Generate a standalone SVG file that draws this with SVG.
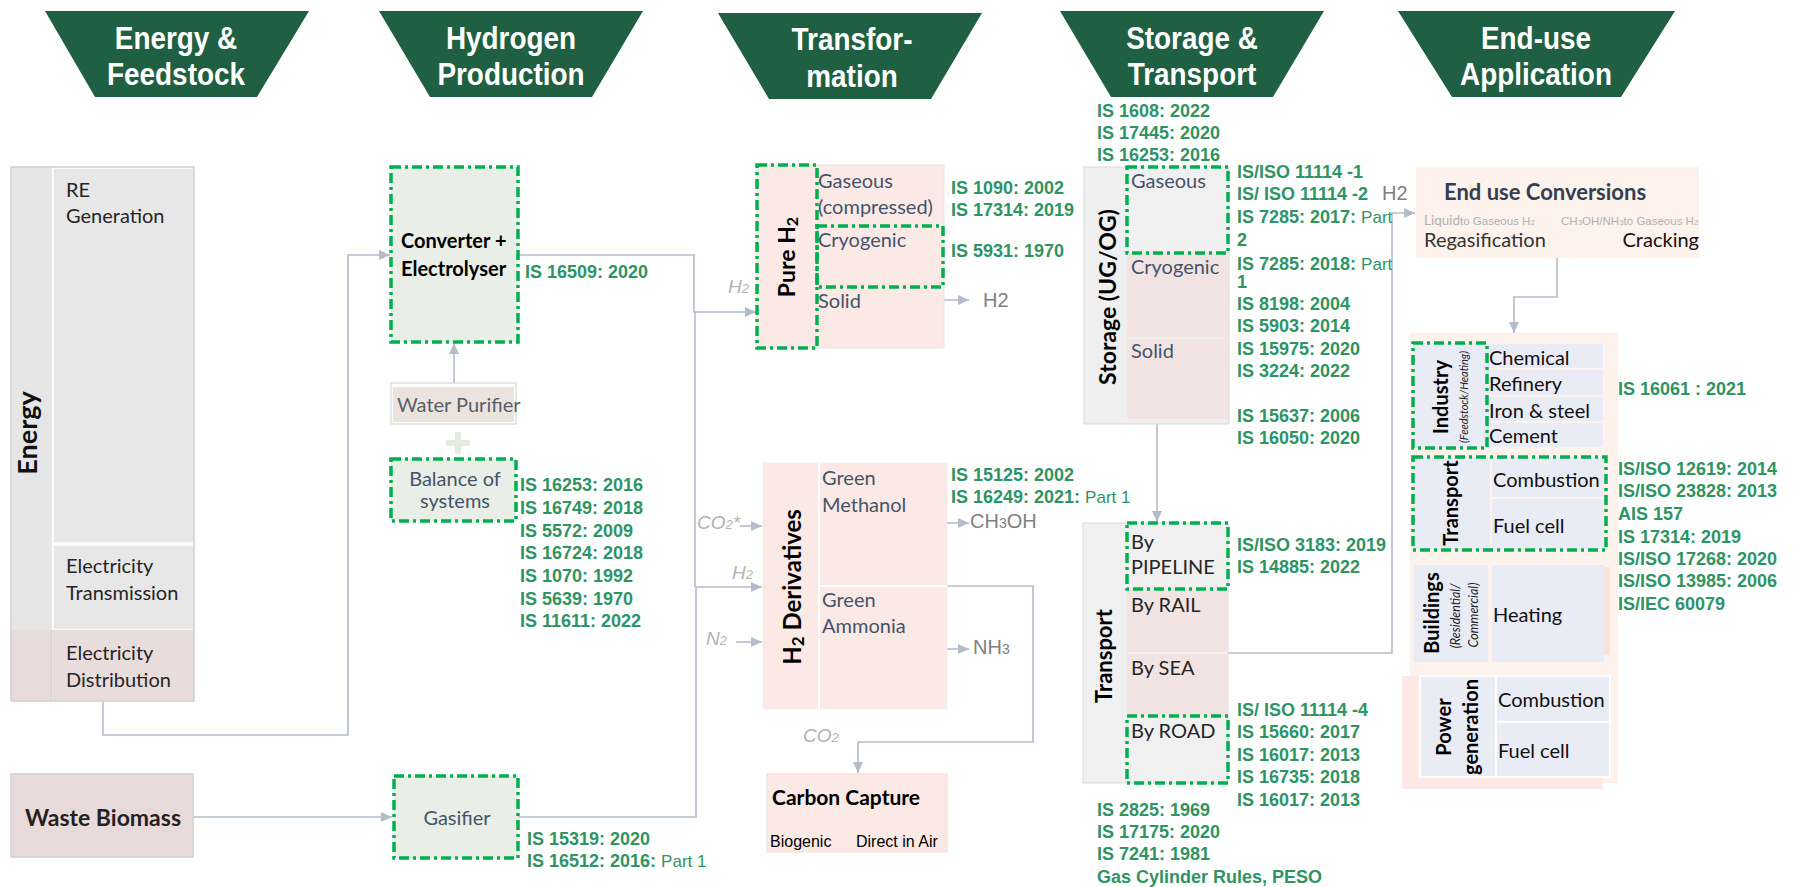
<svg xmlns="http://www.w3.org/2000/svg" width="1802" height="887" viewBox="0 0 1802 887">
<defs>
<style>
.hdr{fill:#1f5f42}
.ht{font-family:"Liberation Sans",Arial,sans-serif;font-weight:bold;font-size:31px;fill:#fff;text-anchor:middle}
.is{font-family:"Liberation Sans",Arial,sans-serif;font-weight:bold;font-size:18px;fill:#2e9464}
.pt{font-weight:normal;font-size:17px}
.dd{fill:none;stroke:#00b050;stroke-width:3.5;stroke-dasharray:10 4 3 4}
.conn{fill:none;stroke:#b4bccb;stroke-width:1.6}
.t{font-family:Lato,"Open Sans",sans-serif;font-size:20px}
.tb{font-family:Lato,"Open Sans",sans-serif;font-weight:bold}
.gb{fill:#44546a}
.dk{fill:#262626}
.lab{font-family:"Liberation Sans",Arial,sans-serif;font-style:italic;font-size:19px;fill:#b3b3b3}
.out{font-family:"Liberation Sans",Arial,sans-serif;font-size:20px;fill:#808080}
.pink{fill:#fbe9e5}
.lav{fill:#e9ebf5}
.grn{fill:#e9eee6}
</style>
<marker id="ah" viewBox="0 0 11 10" refX="11" refY="5" markerWidth="11" markerHeight="10" markerUnits="userSpaceOnUse" orient="auto"><path d="M0,0 L11,5 L0,10 z" fill="#b4bccb"/></marker>
</defs>
<rect width="1802" height="887" fill="#fff"/>

<g id="headers">
<polygon class="hdr" points="45,11 309,11 257,97 95,97"/>
<text class="ht" transform="translate(176,0) scale(0.9,1)" x="0" y="49">Energy &amp;</text>
<text class="ht" transform="translate(176,0) scale(0.9,1)" x="0" y="85">Feedstock</text>
<polygon class="hdr" points="379,11 643,11 592,97 430,97"/>
<text class="ht" transform="translate(511,0) scale(0.9,1)" x="0" y="49">Hydrogen</text>
<text class="ht" transform="translate(511,0) scale(0.9,1)" x="0" y="85">Production</text>
<polygon class="hdr" points="718,13 982,13 931,99 769,99"/>
<text class="ht" transform="translate(852,0) scale(0.9,1)" x="0" y="50">Transfor-</text>
<text class="ht" transform="translate(852,0) scale(0.9,1)" x="0" y="87">mation</text>
<polygon class="hdr" points="1060,11 1324,11 1273,97 1111,97"/>
<text class="ht" transform="translate(1192,0) scale(0.9,1)" x="0" y="49">Storage &amp;</text>
<text class="ht" transform="translate(1192,0) scale(0.9,1)" x="0" y="85">Transport</text>
<polygon class="hdr" points="1398,11 1675,11 1621,97 1452,97"/>
<text class="ht" transform="translate(1536,0) scale(0.9,1)" x="0" y="49">End-use</text>
<text class="ht" transform="translate(1536,0) scale(0.9,1)" x="0" y="85">Application</text>
</g>

<g id="connectors">
<path class="conn" d="M103,701 V735 H348 V255 H390" marker-end="url(#ah)"/>
<path class="conn" d="M193,817 H392" marker-end="url(#ah)"/>
<path class="conn" d="M454,383 V343" marker-end="url(#ah)"/>
<path class="conn" d="M518,255 H694 V312 H756" marker-end="url(#ah)"/>
<path class="conn" d="M518,817 H696 V587 H762" marker-end="url(#ah)"/>
<path class="conn" d="M695,312 V587"/>
<path class="conn" d="M740,526 H762" marker-end="url(#ah)"/>
<path class="conn" d="M736,642 H762" marker-end="url(#ah)"/>
<path class="conn" d="M944,300 H969" marker-end="url(#ah)"/>
<path class="conn" d="M947,523 H969" marker-end="url(#ah)"/>
<path class="conn" d="M947,649 H969" marker-end="url(#ah)"/>
<path class="conn" d="M947,586 H1033 V742 H858 V773" marker-end="url(#ah)"/>
<path class="conn" d="M1157,424 V522" marker-end="url(#ah)"/>
<path class="conn" d="M1228,653 H1392 V213 H1415" marker-end="url(#ah)"/>
<path class="conn" d="M1557,258 V297 H1514 V333" marker-end="url(#ah)"/>
<text class="lab" x="728" y="293">H<tspan font-size="13">2</tspan></text>
<text class="lab" x="697" y="529">CO<tspan font-size="13">2</tspan>*</text>
<text class="lab" x="732" y="579">H<tspan font-size="13">2</tspan></text>
<text class="lab" x="706" y="645">N<tspan font-size="13">2</tspan></text>
<text class="lab" x="803" y="742">CO<tspan font-size="13">2</tspan></text>
<text class="out" x="983" y="307" font-size="18">H2</text>
<text class="out" x="970" y="528">CH<tspan font-size="14">3</tspan>OH</text>
<text class="out" x="973" y="654">NH<tspan font-size="14">3</tspan></text>
<text class="out" x="1382" y="200">H2</text>
</g>

<g id="energy">
<rect x="11" y="167" width="41" height="463" fill="#e6e6e6"/>
<rect x="11" y="630" width="41" height="71" fill="#e8dbdb"/>
<rect x="53" y="168" width="141" height="375" fill="#e7e7e7" stroke="#fff" stroke-width="1.5"/>
<rect x="53" y="545" width="141" height="85" fill="#e7e7e7" stroke="#fff" stroke-width="1.5"/>
<rect x="53" y="630" width="141" height="71" fill="#e9dcdc"/>
<line x1="52" y1="630" x2="52" y2="701" stroke="#d8c8c8" stroke-width="1"/>
<rect x="11" y="167" width="183" height="534" fill="none" stroke="#cfcfcf" stroke-width="1.5"/>
<text class="tb" font-size="27" fill="#111" text-anchor="middle" transform="translate(37,433) rotate(-90)">Energy</text>
<text class="t dk" x="66" y="197">RE</text>
<text class="t dk" x="66" y="223">Generation</text>
<text class="t dk" x="66" y="573">Electricity</text>
<text class="t dk" x="66" y="600">Transmission</text>
<text class="t dk" x="66" y="660">Electricity</text>
<text class="t dk" x="66" y="687">Distribution</text>
</g>

<g id="waste-biomass">
<rect x="11" y="774" width="182" height="83" fill="#e8dada" stroke="#cfcfcf" stroke-width="1.5"/>
<text class="tb" font-size="23" fill="#261f1f" text-anchor="middle" x="103" y="826">Waste Biomass</text>
</g>

<g id="converter">
<rect x="391" y="167" width="127" height="175" class="grn"/>
<rect x="391" y="167" width="127" height="175" class="dd"/>
<text class="tb" font-size="20" fill="#000" x="401" y="248">Converter +</text>
<text class="tb" font-size="20" fill="#000" x="401" y="276">Electrolyser</text>
<text class="is" x="525" y="278">IS 16509: 2020</text>
</g>

<g id="water-purifier">
<rect x="391" y="383" width="125" height="41" fill="#fff" stroke="#cfcfcf" stroke-width="1"/>
<rect x="393" y="387" width="121" height="35" fill="#ece3dc"/>
<text class="t" font-size="18" fill="#555f6e" x="397" y="412">Water Purifier</text>
</g>

<g id="plus">
<path d="M455,432 h6 v8 h9 v6 h-9 v8 h-6 v-8 h-9 v-6 h9 z" fill="#e4ece0"/>
</g>

<g id="balance">
<rect x="391" y="459" width="125" height="62" class="grn"/>
<rect x="391" y="459" width="125" height="62" class="dd"/>
<text class="t gb" font-size="18" text-anchor="middle" x="455" y="486">Balance of</text>
<text class="t gb" font-size="18" text-anchor="middle" x="455" y="508">systems</text>
<text class="is" x="520" y="491">IS 16253: 2016</text>
<text class="is" x="520" y="514">IS 16749: 2018</text>
<text class="is" x="520" y="537">IS 5572: 2009</text>
<text class="is" x="520" y="559">IS 16724: 2018</text>
<text class="is" x="520" y="582">IS 1070: 1992</text>
<text class="is" x="520" y="605">IS 5639: 1970</text>
<text class="is" x="520" y="627">IS 11611: 2022</text>
</g>

<g id="gasifier">
<rect x="394" y="776" width="124" height="82" class="grn"/>
<rect x="394" y="776" width="124" height="82" class="dd"/>
<text class="t gb" text-anchor="middle" x="457" y="825">Gasifier</text>
<text class="is" x="527" y="845">IS 15319: 2020</text>
<text class="is" x="527" y="867">IS 16512: 2016: <tspan class="pt">Part 1</tspan></text>
</g>

<g id="pure-h2">
<rect x="757" y="165" width="187" height="183" class="pink" stroke="#e6e6e6" stroke-width="1"/>
<rect x="757" y="165" width="60" height="183" class="dd"/>
<rect x="817" y="226" width="126" height="61" class="dd"/>
<text class="tb" font-size="23" fill="#000" text-anchor="middle" transform="translate(795,257) rotate(-90)">Pure H<tspan font-size="16" dy="3">2</tspan></text>
<text class="t gb" x="818" y="188">Gaseous</text>
<text class="t gb" x="818" y="214">(compressed)</text>
<text class="t gb" x="818" y="247">Cryogenic</text>
<text class="t gb" x="818" y="308">Solid</text>
<text class="is" x="951" y="194">IS 1090: 2002</text>
<text class="is" x="951" y="216">IS 17314: 2019</text>
<text class="is" x="951" y="257">IS 5931: 1970</text>
</g>

<g id="h2-derivatives">
<rect x="763" y="463" width="184" height="246" class="pink" stroke="#f0f0f0" stroke-width="1"/>
<line x1="819" y1="463" x2="819" y2="709" stroke="#fff" stroke-width="2"/>
<line x1="819" y1="586" x2="947" y2="586" stroke="#fff" stroke-width="2"/>
<text class="tb" font-size="24" fill="#000" text-anchor="middle" transform="translate(801,587) rotate(-90)">H<tspan font-size="17" dy="3">2</tspan><tspan dy="-3"> Derivatives</tspan></text>
<text class="t gb" font-size="20.5" x="822" y="485">Green</text>
<text class="t gb" font-size="20.5" x="822" y="512">Methanol</text>
<text class="t gb" font-size="20.5" x="822" y="607">Green</text>
<text class="t gb" font-size="20.5" x="822" y="633">Ammonia</text>
<text class="is" x="951" y="481">IS 15125: 2002</text>
<text class="is" x="951" y="503">IS 16249: 2021: <tspan class="pt">Part 1</tspan></text>
</g>

<g id="carbon-capture">
<rect x="767" y="774" width="180" height="78" class="pink" stroke="#f3dcd6" stroke-width="1"/>
<text class="tb" font-size="21" fill="#000" x="772" y="805">Carbon Capture</text>
<text font-family="Liberation Sans,Arial,sans-serif" font-size="16" fill="#000" x="770" y="847">Biogenic</text>
<text font-family="Liberation Sans,Arial,sans-serif" font-size="16" fill="#000" x="856" y="847">Direct in Air</text>
</g>

<g id="storage">
<text class="is" x="1097" y="117">IS 1608: 2022</text>
<text class="is" x="1097" y="139">IS 17445: 2020</text>
<text class="is" x="1097" y="161">IS 16253: 2016</text>
<rect x="1084" y="167" width="145" height="257" fill="#efefef" stroke="#d9d9d9" stroke-width="1"/>
<rect x="1127" y="253" width="101" height="85" fill="#f2e4e3"/>
<rect x="1127" y="339" width="101" height="80" fill="#f2e4e3"/>
<rect x="1127" y="167" width="101" height="86" fill="#f0f0f0"/>
<rect x="1127" y="167" width="101" height="86" class="dd"/>
<text class="tb" font-size="23" fill="#000" text-anchor="middle" transform="translate(1116,297) rotate(-90)">Storage (UG/OG)</text>
<text class="t gb" x="1131" y="188">Gaseous</text>
<text class="t gb" x="1131" y="274">Cryogenic</text>
<text class="t gb" x="1131" y="358">Solid</text>
<text class="is" x="1237" y="178">IS/ISO 11114 -1</text>
<text class="is" x="1237" y="200">IS/ ISO 11114 -2</text>
<text class="is" x="1237" y="223">IS 7285: 2017: <tspan class="pt">Part</tspan></text>
<text class="is" x="1237" y="246">2</text>
<text class="is" x="1237" y="270">IS 7285: 2018: <tspan class="pt">Part</tspan></text>
<text class="is" x="1237" y="288" font-weight="normal" font-size="14">1</text>
<text class="is" x="1237" y="310">IS 8198: 2004</text>
<text class="is" x="1237" y="332">IS 5903: 2014</text>
<text class="is" x="1237" y="355">IS 15975: 2020</text>
<text class="is" x="1237" y="377">IS 3224: 2022</text>
<text class="is" x="1237" y="422">IS 15637: 2006</text>
<text class="is" x="1237" y="444">IS 16050: 2020</text>
</g>

<g id="transport">
<rect x="1083" y="523" width="145" height="260" fill="#f0f0f0" stroke="#d9d9d9" stroke-width="1"/>
<rect x="1127" y="589" width="101" height="63" fill="#f2e4e3"/>
<rect x="1127" y="654" width="101" height="62" fill="#f2e4e3"/>
<rect x="1127" y="523" width="101" height="66" class="dd"/>
<rect x="1127" y="716" width="101" height="67" class="dd"/>
<text class="tb" font-size="22" fill="#000" text-anchor="middle" transform="translate(1112,656) rotate(-90)">Transport</text>
<text class="t dk" font-size="19" x="1131" y="549">By</text>
<text class="t dk" font-size="19" x="1131" y="574">PIPELINE</text>
<text class="t dk" font-size="19" x="1131" y="612">By RAIL</text>
<text class="t dk" font-size="19" x="1131" y="675">By SEA</text>
<text class="t dk" font-size="19" x="1131" y="738">By ROAD</text>
<text class="is" x="1237" y="551">IS/ISO 3183: 2019</text>
<text class="is" x="1237" y="573">IS 14885: 2022</text>
<text class="is" x="1237" y="716">IS/ ISO 11114 -4</text>
<text class="is" x="1237" y="738">IS 15660: 2017</text>
<text class="is" x="1237" y="761">IS 16017: 2013</text>
<text class="is" x="1237" y="783">IS 16735: 2018</text>
<text class="is" x="1237" y="806">IS 16017: 2013</text>
<text class="is" x="1097" y="816">IS 2825: 1969</text>
<text class="is" x="1097" y="838">IS 17175: 2020</text>
<text class="is" x="1097" y="860">IS 7241: 1981</text>
<text class="is" x="1097" y="883">Gas Cylinder Rules, PESO</text>
</g>

<g id="end-use-conversions">
<rect x="1416" y="167" width="283" height="91" fill="#fdf3ec"/>
<text class="tb" font-size="22" fill="#333f50" x="1444" y="200">End use Conversions</text>
<text font-family="Lato,sans-serif" font-size="13.5" fill="#b0b0b0" x="1424" y="225">Liquid<tspan font-family="Liberation Sans,Arial,sans-serif" font-size="11.5">to Gaseous H<tspan font-size="8">2</tspan></tspan></text>
<text font-family="Liberation Sans,Arial,sans-serif" font-size="11.5" fill="#b0b0b0" x="1561" y="225">CH<tspan font-size="8">3</tspan>OH/NH<tspan font-size="8">3</tspan>to Gaseous H<tspan font-size="8">2</tspan></text>
<text class="t" font-size="18.5" fill="#333" x="1424" y="247">Regasification</text>
<text class="t" font-size="20" fill="#111" text-anchor="end" x="1699" y="247">Cracking</text>
</g>

<g id="end-use-area">
<rect x="1410" y="333" width="208" height="450" fill="#fdf2ec"/>
<rect x="1402" y="676" width="201" height="113" fill="#fce9e3"/>
<rect x="1604" y="567" width="6" height="88" fill="#fbe3dc"/>
</g>

<g id="industry">
<rect x="1413" y="343" width="74" height="105" class="lav"/>
<rect x="1487" y="344" width="116" height="24" class="lav"/>
<rect x="1487" y="370" width="116" height="25" class="lav"/>
<rect x="1487" y="397" width="116" height="24" class="lav"/>
<rect x="1487" y="423" width="116" height="24" class="lav"/>
<rect x="1413" y="343" width="74" height="105" class="dd"/>
<text class="tb" font-size="20" fill="#000" text-anchor="middle" transform="translate(1448,397) rotate(-90)">Industry</text>
<text font-family="Lato,sans-serif" font-style="italic" font-size="11" fill="#222" text-anchor="middle" transform="translate(1468,397) rotate(-90)">(Feedstock/Heating)</text>
<text class="t" font-size="18" fill="#111" x="1489" y="365">Chemical</text>
<text class="t" font-size="18" fill="#111" x="1489" y="391">Refinery</text>
<text class="t" font-size="18" fill="#111" x="1489" y="418">Iron &amp; steel</text>
<text class="t" font-size="18" fill="#111" x="1489" y="443">Cement</text>
<text class="is" x="1618" y="395">IS 16061 : 2021</text>
</g>

<g id="transport-use">
<rect x="1413" y="457" width="77" height="93" class="lav"/>
<rect x="1492" y="457" width="112" height="40" class="lav"/>
<rect x="1492" y="499" width="112" height="50" class="lav"/>
<rect x="1413" y="457" width="193" height="93" class="dd"/>
<text class="tb" font-size="20" fill="#000" text-anchor="middle" transform="translate(1458,503) rotate(-90)">Transport</text>
<text class="t" font-size="18" fill="#111" x="1493" y="487">Combustion</text>
<text class="t" font-size="18" fill="#111" x="1493" y="533">Fuel cell</text>
<text class="is" x="1618" y="475">IS/ISO 12619: 2014</text>
<text class="is" x="1618" y="497">IS/ISO 23828: 2013</text>
<text class="is" x="1618" y="520">AIS 157</text>
<text class="is" x="1618" y="543">IS 17314: 2019</text>
<text class="is" x="1618" y="565">IS/ISO 17268: 2020</text>
<text class="is" x="1618" y="587">IS/ISO 13985: 2006</text>
<text class="is" x="1618" y="610">IS/IEC 60079</text>
</g>

<g id="buildings">
<rect x="1414" y="565" width="74" height="97" class="lav"/>
<rect x="1492" y="565" width="112" height="97" class="lav"/>
<text class="tb" font-size="20" fill="#000" text-anchor="middle" transform="translate(1439,613) rotate(-90)">Buildings</text>
<text font-family="Lato,sans-serif" font-style="italic" font-size="12.5" fill="#222" text-anchor="middle" transform="translate(1460,616) rotate(-90)">(Residential/</text>
<text font-family="Lato,sans-serif" font-style="italic" font-size="12.5" fill="#222" text-anchor="middle" transform="translate(1478,615) rotate(-90)">Commercial)</text>
<text class="t" font-size="18" fill="#111" x="1493" y="622">Heating</text>
</g>

<g id="power-generation">
<rect x="1419" y="675" width="192" height="103" fill="#fff"/>
<rect x="1421" y="677" width="74" height="99" class="lav"/>
<rect x="1497" y="677" width="112" height="44" class="lav"/>
<rect x="1497" y="723" width="112" height="53" class="lav"/>
<text class="tb" font-size="20" fill="#000" text-anchor="middle" transform="translate(1451,727) rotate(-90)">Power</text>
<text class="tb" font-size="20" fill="#000" text-anchor="middle" transform="translate(1478,727) rotate(-90)">generation</text>
<text class="t" font-size="18" fill="#111" x="1498" y="707">Combustion</text>
<text class="t" font-size="18" fill="#111" x="1498" y="758">Fuel cell</text>
</g>
</svg>
